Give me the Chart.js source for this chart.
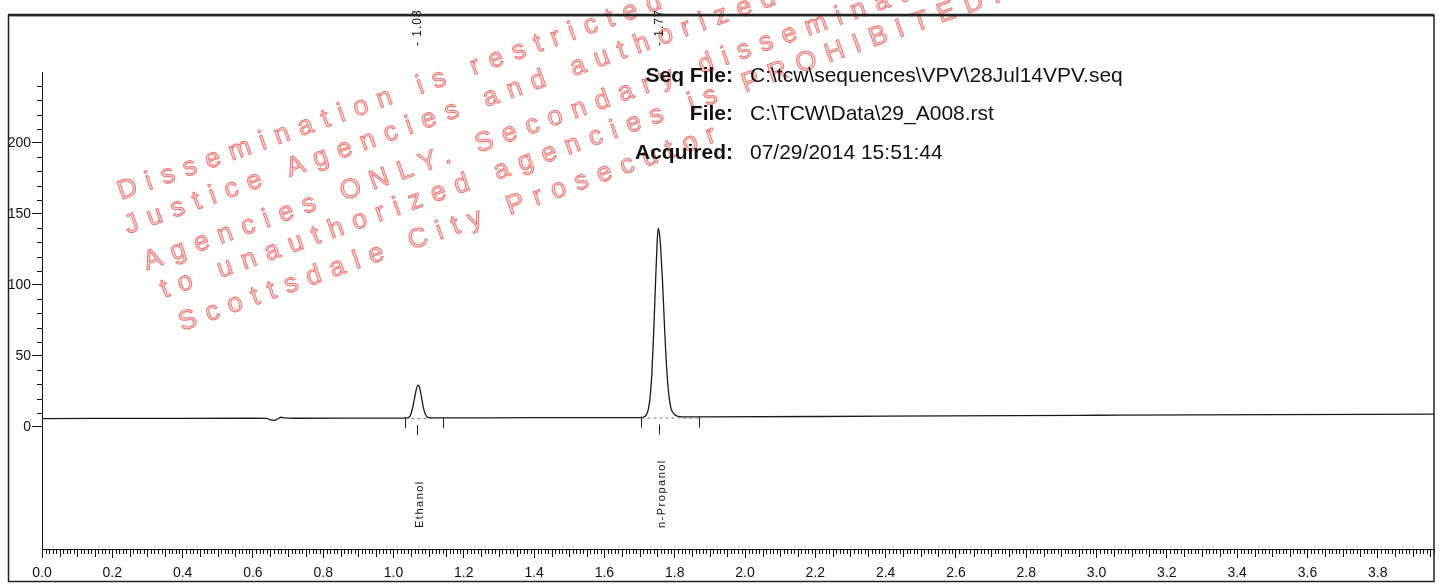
<!DOCTYPE html>
<html>
<head>
<meta charset="utf-8">
<script src="https://cdn.jsdelivr.net/npm/chart.js@4.4.1/dist/chart.umd.min.js"></script>
<style>
  html, body { margin: 0; padding: 0; background: #fff; }
  #wrap { position: relative; width: 1442px; height: 584px; }
</style>
</head>
<body>
<div id="wrap"><canvas id="chrom" width="1442" height="584"></canvas></div>
<script>
// detector trace (time in min, signal in mV)
const times = [0.00, 0.30, 0.60, 0.64, 0.65, 0.66, 0.67, 0.68, 0.69, 0.72,
  1.00, 1.035, 1.045, 1.05, 1.055, 1.06, 1.065, 1.07, 1.075, 1.08,
  1.085, 1.09, 1.095, 1.10, 1.12, 1.40, 1.70, 1.71, 1.72, 1.725,
  1.73, 1.735, 1.74, 1.745, 1.75, 1.753, 1.757, 1.76, 1.765, 1.77,
  1.775, 1.78, 1.785, 1.79, 1.80, 1.81, 1.83, 1.87, 2.40, 3.00,
  3.50, 3.96];
const signal = [5.9, 6.0, 6.1, 6.0, 4.9, 4.6, 5.4, 6.8, 6.3, 6.1,
  6.2, 6.2, 7.0, 9.4, 14.2, 20.5, 26.6, 29.4, 26.8, 20.3,
  13.6, 9.2, 7.2, 6.5, 6.3, 6.5, 6.6, 6.7, 8.8, 12.5,
  21, 38, 66, 99, 130, 140, 135, 126, 104, 76,
  50, 31, 19, 12.5, 8.6, 7.4, 7.0, 7.0, 7.6, 8.2,
  8.7, 9.0];

// integrated peaks
const peakNames = ["Ethanol", "n-Propanol"];
const peakRT = ["1.08", "1.77"];
const peakApex = [1.068, 1.755];
const peakStart = [1.032, 1.703];
const peakEnd = [1.14, 1.868];
const peakBase = [6.2, 6.6];

const xTicks = [0.0, 0.2, 0.4, 0.6, 0.8, 1.0, 1.2, 1.4, 1.6, 1.8, 2.0,
  2.2, 2.4, 2.6, 2.8, 3.0, 3.2, 3.4, 3.6, 3.8];
const yTicks = [0, 50, 100, 150, 200];

const infoLabels = ["Seq File:", "File:", "Acquired:"];
const infoValues = ["C:\\tcw\\sequences\\VPV\\28Jul14VPV.seq",
  "C:\\TCW\\Data\\29_A008.rst", "07/29/2014 15:51:44"];

const stampLines = [
  "Dissemination is restricted to Criminal",
  "Justice Agencies and authorized Criminal",
  "Agencies ONLY. Secondary dissemination",
  "to unauthorized agencies is PROHIBITED.",
  "Scottsdale City Prosecutor"
];
const stampStart = [[121, 200], [128, 234], [147, 270], [164, 298], [182, 331]];

const NARROW = '"Liberation Sans Narrow", "Arial Narrow", "Liberation Sans", sans-serif';
const SANS = '"Liberation Sans", Arial, sans-serif';

const stampPlugin = {
  id: "stamp",
  beforeDraw(chart) {
    const ctx = chart.ctx;
    ctx.save();
    ctx.fillStyle = "#fff";
    ctx.fillRect(0, 0, chart.width, chart.height);
    ctx.font = "27px " + SANS;
    ctx.letterSpacing = "10px";
    ctx.textBaseline = "alphabetic";
    ctx.fillStyle = "rgba(250, 190, 186, 0.7)";
    ctx.strokeStyle = "rgba(236, 80, 74, 0.8)";
    ctx.lineWidth = 0.9;
    stampLines.forEach((s, i) => {
      ctx.save();
      ctx.translate(stampStart[i][0], stampStart[i][1]);
      ctx.rotate(-19.5 * Math.PI / 180);
      ctx.fillText(s, 0, 0);
      ctx.strokeText(s, 0, 0);
      ctx.restore();
    });
    ctx.restore();
  }
};

const decorPlugin = {
  id: "decor",
  afterDraw(chart) {
    const ctx = chart.ctx;
    const xs = chart.scales.x, ys = chart.scales.y;
    ctx.save();
    ctx.strokeStyle = "#111";
    ctx.lineWidth = 1;

    // minor ticks on time axis
    ctx.beginPath();
    for (let i = 1; i <= Math.round(xs.max * 100); i++) {
      if (i % 20 === 0) continue;
      const px = Math.round(xs.getPixelForValue(i / 100)) + 0.5;
      const len = i % 5 === 0 ? 8 : 5;
      ctx.moveTo(px, xs.top);
      ctx.lineTo(px, xs.top + len);
    }
    // minor ticks on signal axis
    for (let v = 10; v < ys.max; v += 10) {
      if (v % 50 === 0) continue;
      const py = Math.round(ys.getPixelForValue(v)) + 0.5;
      ctx.moveTo(ys.right - 5, py);
      ctx.lineTo(ys.right, py);
    }
    ctx.stroke();

    // peak markers and names
    peakNames.forEach((name, i) => {
      const x0 = Math.round(xs.getPixelForValue(peakStart[i])) + 0.5;
      const x1 = Math.round(xs.getPixelForValue(peakEnd[i])) + 0.5;
      const xa = Math.round(xs.getPixelForValue(peakApex[i])) + 0.5;
      const yb = ys.getPixelForValue(peakBase[i]);
      ctx.strokeStyle = "#222";
      ctx.beginPath();
      ctx.moveTo(x0, yb - 1); ctx.lineTo(x0, yb + 10);
      ctx.moveTo(x1, yb - 1); ctx.lineTo(x1, yb + 10);
      ctx.moveTo(xa, yb + 7); ctx.lineTo(xa, yb + 17);
      ctx.stroke();
      ctx.setLineDash([3, 3]);
      ctx.strokeStyle = "#777";
      ctx.beginPath();
      ctx.moveTo(x0, yb + 0.5); ctx.lineTo(x1, yb + 0.5);
      ctx.stroke();
      ctx.setLineDash([]);

      ctx.fillStyle = "#111";
      ctx.textBaseline = "middle";
      ctx.textAlign = "left";
      ctx.font = "11px " + SANS;
      ctx.letterSpacing = "1.5px";
      ctx.save();
      ctx.translate(xa + 2, xs.top - 21);
      ctx.rotate(-Math.PI / 2);
      ctx.fillText(name, 0, 0);
      ctx.restore();

      ctx.font = "12px " + SANS;
      ctx.letterSpacing = "1px";
      ctx.save();
      ctx.translate(xa, ys.top - 26);
      ctx.rotate(-Math.PI / 2);
      ctx.fillText("- " + peakRT[i], 0, 0);
      ctx.restore();
    });
    ctx.letterSpacing = "0px";

    // run information
    ctx.fillStyle = "#111";
    ctx.textBaseline = "middle";
    infoLabels.forEach((lab, i) => {
      const y = 76 + i * 38.5;
      ctx.font = "bold 21px " + SANS;
      ctx.textAlign = "right";
      ctx.fillText(lab, 733, y);
      ctx.font = "21px " + SANS;
      ctx.textAlign = "left";
      ctx.fillText(infoValues[i], 750, y);
    });

    // page frame
    ctx.strokeStyle = "#222";
    ctx.lineWidth = 1.5;
    ctx.strokeRect(8.5, 15.5, 1425.5, 566);
    ctx.lineWidth = 2.5;
    ctx.beginPath();
    ctx.moveTo(8, 15); ctx.lineTo(1434, 15);
    ctx.stroke();
    ctx.restore();
  }
};

const ctx = document.getElementById("chrom").getContext("2d");
const chrom = new Chart(ctx, {
  type: "line",
  data: {
    datasets: [{
      data: times.map((t, i) => ({ x: t, y: signal[i] })),
      borderColor: "#1a1a1a",
      borderWidth: 1.3,
      pointRadius: 0,
      cubicInterpolationMode: "monotone",
      fill: false
    }]
  },
  options: {
    responsive: false,
    animation: false,
    devicePixelRatio: 1,
    layout: { padding: { left: 8, right: 8, top: 72, bottom: 0 } },
    plugins: { legend: { display: false }, tooltip: { enabled: false } },
    scales: {
      x: {
        type: "linear",
        position: "bottom",
        min: 0,
        max: 3.96,
        afterBuildTicks: (s) => { s.ticks = xTicks.map(v => ({ value: v })); },
        afterFit: (s) => { s.height = 35; },
        border: { display: true, color: "#111", width: 1 },
        grid: { display: true, drawOnChartArea: false, drawTicks: true, tickLength: 9, color: "#111" },
        ticks: {
          color: "#111",
          padding: 7,
          maxRotation: 0,
          autoSkip: false,
          font: { family: NARROW, size: 14 },
          callback: (v) => Number(v).toFixed(1)
        }
      },
      y: {
        type: "linear",
        position: "left",
        min: -86,
        max: 250,
        afterBuildTicks: (s) => { s.ticks = yTicks.map(v => ({ value: v })); },
        afterFit: (s) => { s.width = 34; },
        border: { display: true, color: "#111", width: 1 },
        grid: { display: true, drawOnChartArea: false, drawTicks: true, tickLength: 10, color: "#111" },
        ticks: {
          color: "#111",
          padding: 1,
          font: { family: NARROW, size: 14 },
          callback: (v) => String(v)
        }
      }
    }
  },
  plugins: [stampPlugin, decorPlugin]
});
</script>
</body>
</html>
